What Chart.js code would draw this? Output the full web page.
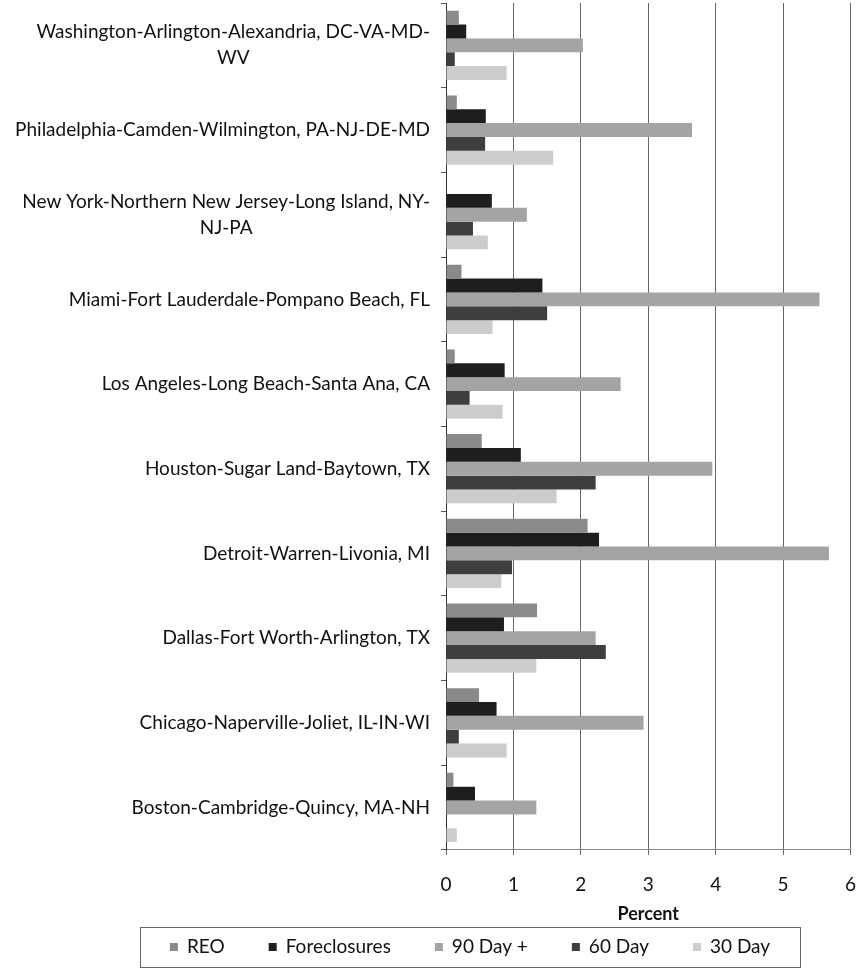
<!DOCTYPE html>
<html>
<head>
<meta charset="utf-8">
<script src="https://cdn.jsdelivr.net/npm/chart.js@4.4.1/dist/chart.umd.min.js"></script>
<style>
  html, body { margin: 0; padding: 0; background: #fff; }
  #wrap { width: 859px; height: 975px; position: relative; }
</style>
</head>
<body>
<div id="wrap"><canvas id="delinq"></canvas></div>
<script>
// metro areas, top to bottom as in the picture
const metros = [
  ['Washington-Arlington-Alexandria, DC-VA-MD-', 'WV'],
  'Philadelphia-Camden-Wilmington, PA-NJ-DE-MD',
  ['New York-Northern New Jersey-Long Island, NY-', 'NJ-PA'],
  'Miami-Fort Lauderdale-Pompano Beach, FL',
  'Los Angeles-Long Beach-Santa Ana, CA',
  'Houston-Sugar Land-Baytown, TX',
  'Detroit-Warren-Livonia, MI',
  'Dallas-Fort Worth-Arlington, TX',
  'Chicago-Naperville-Joliet, IL-IN-WI',
  'Boston-Cambridge-Quincy, MA-NH'
];

// percent values
const reo          = [0.19, 0.16, 0.00, 0.23, 0.13, 0.53, 2.10, 1.35, 0.49, 0.11];
const foreclosures = [0.30, 0.59, 0.68, 1.43, 0.87, 1.11, 2.27, 0.86, 0.75, 0.43];
const day90        = [2.03, 3.65, 1.20, 5.54, 2.59, 3.95, 5.68, 2.22, 2.93, 1.34];
const day60        = [0.13, 0.58, 0.40, 1.50, 0.35, 2.22, 0.98, 2.37, 0.19, 0.00];
const day30        = [0.90, 1.59, 0.62, 0.69, 0.84, 1.64, 0.82, 1.34, 0.90, 0.16];

const percentTicks = [0, 1, 2, 3, 4, 5, 6];

const FONT = 'Lato, "Open Sans", sans-serif';
const FS = 19;

// category labels: block right-aligned, wrapped lines centred within the block
const metroLabels = {
  id: 'metroLabels',
  afterDraw(chart) {
    const y = chart.scales.y;
    const ctx = chart.ctx;
    ctx.save();
    ctx.font = FS + 'px ' + FONT;
    ctx.fillStyle = '#111';
    ctx.textAlign = 'center';
    ctx.textBaseline = 'middle';
    const right = 430, lh = 26;
    metros.forEach((m, i) => {
      const lines = Array.isArray(m) ? m : [m];
      const w = Math.max(...lines.map(l => ctx.measureText(l).width));
      const cx = right - w / 2;
      const cy = y.getPixelForTick(i);
      lines.forEach((l, k) => ctx.fillText(l, cx, cy + (k - (lines.length - 1) / 2) * lh));
    });
    ctx.restore();
  }
};

// boxed legend under the axis title
const boxedLegend = {
  id: 'boxedLegend',
  afterDraw(chart) {
    const ctx = chart.ctx;
    const sets = chart.data.datasets;
    ctx.save();
    ctx.font = FS + 'px ' + FONT;
    ctx.textBaseline = 'middle';
    const sw = 8, gapText = 17, gapItem = 44;
    let total = 0;
    sets.forEach((ds, i) => {
      total += gapText + ctx.measureText(ds.label).width + (i < sets.length - 1 ? gapItem : 0);
    });
    const boxL = 140, boxR = 800, boxT = 927, boxB = 967;
    const cy = (boxT + boxB) / 2;
    ctx.strokeStyle = '#666';
    ctx.lineWidth = 1;
    ctx.strokeRect(boxL + 0.5, boxT + 0.5, boxR - boxL, boxB - boxT);
    let x = (boxL + boxR) / 2 - total / 2;
    sets.forEach(ds => {
      ctx.fillStyle = ds.backgroundColor;
      ctx.fillRect(x, cy - 4, sw, sw);
      ctx.fillStyle = '#111';
      ctx.fillText(ds.label, x + gapText, cy);
      x += gapText + ctx.measureText(ds.label).width + gapItem;
    });
    ctx.restore();
  }
};

const canvas = document.getElementById('delinq');
canvas.width = 859;
canvas.height = 975;

new Chart(canvas, {
  type: 'bar',
  data: {
    labels: metros,
    datasets: [
      { label: 'REO',          data: reo,          backgroundColor: '#8a8a8a' },
      { label: 'Foreclosures', data: foreclosures, backgroundColor: '#1e1e1e' },
      { label: '90 Day +',     data: day90,        backgroundColor: '#a4a4a4' },
      { label: '60 Day',       data: day60,        backgroundColor: '#3e3e3e' },
      { label: '30 Day',       data: day30,        backgroundColor: '#cccccc' }
    ]
  },
  options: {
    indexAxis: 'y',
    responsive: false,
    animation: false,
    layout: { padding: { top: 3, right: 8, left: 0, bottom: 49.6 } },
    datasets: { bar: { categoryPercentage: 0.818, barPercentage: 1.0, borderWidth: 0 } },
    plugins: { legend: { display: false }, tooltip: { enabled: false } },
    scales: {
      x: {
        min: 0, max: 6,
        afterBuildTicks: s => { s.ticks = percentTicks.map(v => ({ value: v })); },
        grid: { color: '#666', lineWidth: 1, tickLength: 5, drawTicks: true },
        border: { color: '#888', width: 1 },
        ticks: { color: '#111', padding: 3, font: { family: FONT, size: FS, lineHeight: '54px' } },
        title: {
          display: true, text: 'Percent', color: '#111',
          font: { family: FONT, size: 18, weight: 'bold', lineHeight: 1.2 },
          padding: { top: -11, bottom: 0 }
        }
      },
      y: {
        afterFit: s => { s.width = 446; },
        grid: { drawOnChartArea: false, drawTicks: true, tickLength: 5, color: '#555' },
        border: { color: '#333', width: 1 },
        ticks: { display: false }
      }
    }
  },
  plugins: [metroLabels, boxedLegend]
});
</script>
</body>
</html>
